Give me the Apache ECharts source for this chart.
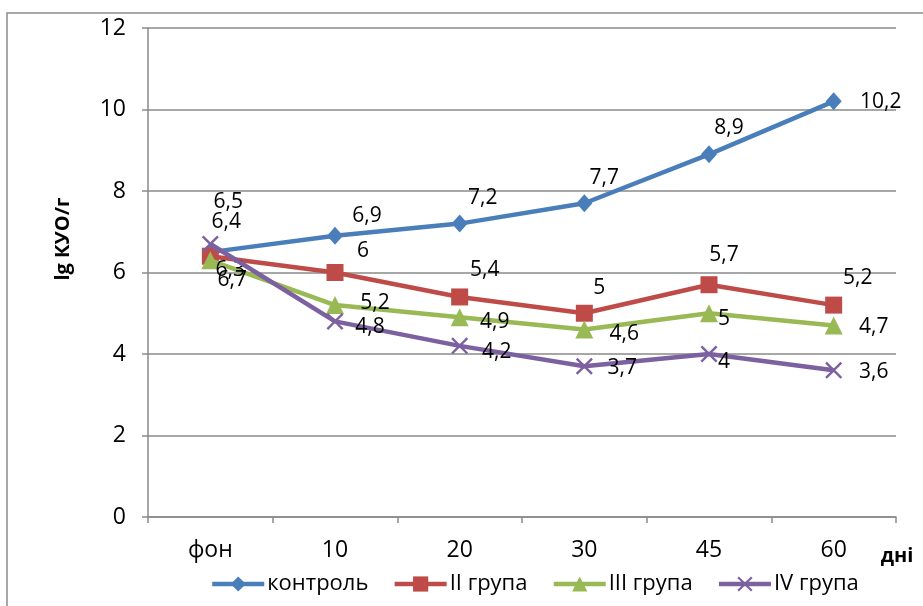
<!DOCTYPE html>
<html>
<head>
<meta charset="utf-8">
<script src="https://cdn.jsdelivr.net/npm/echarts@6/dist/echarts.min.js"></script>
<style>
  html, body { margin: 0; padding: 0; background: #fff; }
  #chart { width: 923px; height: 606px; }
</style>
</head>
<body>
<div id="chart"></div>
<script>
// Days of observation
var categories = ['фон', '10', '20', '30', '45', '60'];

// lg КУО/г by group
var seriesNames = ['контроль', 'II група', 'III група', 'IV група'];
var control = [6.5, 6.9, 7.2, 7.7, 8.9, 10.2];
var group2 = [6.4, 6, 5.4, 5, 5.7, 5.2];
var group3 = [6.3, 5.2, 4.9, 4.6, 5, 4.7];
var group4 = [6.7, 4.8, 4.2, 3.7, 4, 3.6];

var yTicks = { min: 0, max: 12, interval: 2 };

// Label placement (pixel offsets from each marker centre)
var labelOffsets = [
  [[18, -50], [32, -20], [23, -26], [20, -25], [20, -26], [47, 1]],
  [[16, -34], [28, -21], [25, -27], [15, -25], [15, -30], [24, -27]],
  [[20, 10], [40, -2], [35, 5], [40, 4], [15, 6], [40, 2]],
  [[22, 36], [35, 6], [37, 6], [38, 2], [15, 8], [40, 2]]
];

var colors = ['#4A7EBB', '#BE4B48', '#98B954', '#7D60A0'];
var symbols = [
  'diamond',
  'rect',
  'triangle',
  'path://M0,1 L1,0 L5,4 L9,0 L10,1 L6,5 L10,9 L9,10 L5,6 L1,10 L0,9 L4,5 Z'
];
var symbolSizes = [[16, 18], 17, 18, 17];

var FONT = '"Open Sans", "Liberation Sans", sans-serif';
var values = [control, group2, group3, group4];

function fmt(v) { return String(v).replace('.', ','); }

var series = values.map(function (vals, s) {
  return {
    name: seriesNames[s],
    type: 'line',
    data: vals.map(function (v, i) {
      return { value: v, label: { offset: labelOffsets[s][i] } };
    }),
    symbol: symbols[s],
    symbolSize: symbolSizes[s],
    lineStyle: { color: colors[s], width: 4.5 },
    itemStyle: { color: colors[s] },
    emphasis: { disabled: true },
    label: {
      show: true,
      position: 'inside',
      color: '#000',
      fontFamily: FONT,
      fontSize: 21,
      formatter: function (p) { return fmt(p.value); }
    },
    z: 2 + s
  };
});

var chart = echarts.init(document.getElementById('chart'));
chart.setOption({
  animation: false,
  color: colors,
  textStyle: { fontFamily: FONT },
  grid: { left: 148, right: 27, top: 28, bottom: 89, containLabel: false },
  xAxis: {
    type: 'category',
    data: categories,
    boundaryGap: true,
    axisLine: { lineStyle: { color: '#8a8a8a', width: 1.5 } },
    axisTick: { show: true, length: 6, lineStyle: { color: '#8a8a8a', width: 1.5 } },
    axisLabel: { color: '#000', fontSize: 23, fontFamily: FONT, margin: 22 }
  },
  yAxis: {
    type: 'value',
    min: yTicks.min,
    max: yTicks.max,
    interval: yTicks.interval,
    axisLine: { show: true, lineStyle: { color: '#8a8a8a', width: 1.5 } },
    axisTick: { show: true, length: 6, lineStyle: { color: '#8a8a8a', width: 1.5 } },
    splitLine: { lineStyle: { color: '#8a8a8a', width: 1.5 } },
    axisLabel: { color: '#000', fontSize: 23, fontFamily: FONT, margin: 22 }
  },
  legend: {
    data: seriesNames,
    left: 205,
    top: 568,
    itemWidth: 52,
    itemHeight: 19,
    itemGap: 24,
    lineStyle: { width: 4.5 },
    textStyle: { color: '#000', fontSize: 22, fontFamily: FONT, padding: [0, 0, 0, -2] }
  },
  graphic: [
    {
      type: 'rect',
      shape: { x: 7, y: 13, width: 1000, height: 620 },
      style: { fill: null, stroke: '#8a8a8a', lineWidth: 1.5 },
      silent: true,
      z: -10
    },
    {
      type: 'text',
      x: 63,
      y: 239,
      rotation: Math.PI / 2,
      style: {
        text: 'lg КУО/г',
        fontFamily: FONT,
        fontSize: 20,
        fontWeight: 'bold',
        fill: '#000',
        align: 'center',
        verticalAlign: 'middle'
      }
    },
    {
      type: 'text',
      x: 897,
      y: 556,
      style: {
        text: 'дні',
        fontFamily: FONT,
        fontSize: 20,
        fontWeight: 'bold',
        fill: '#000',
        align: 'center',
        verticalAlign: 'middle'
      }
    }
  ],
  series: series
});
</script>
</body>
</html>
